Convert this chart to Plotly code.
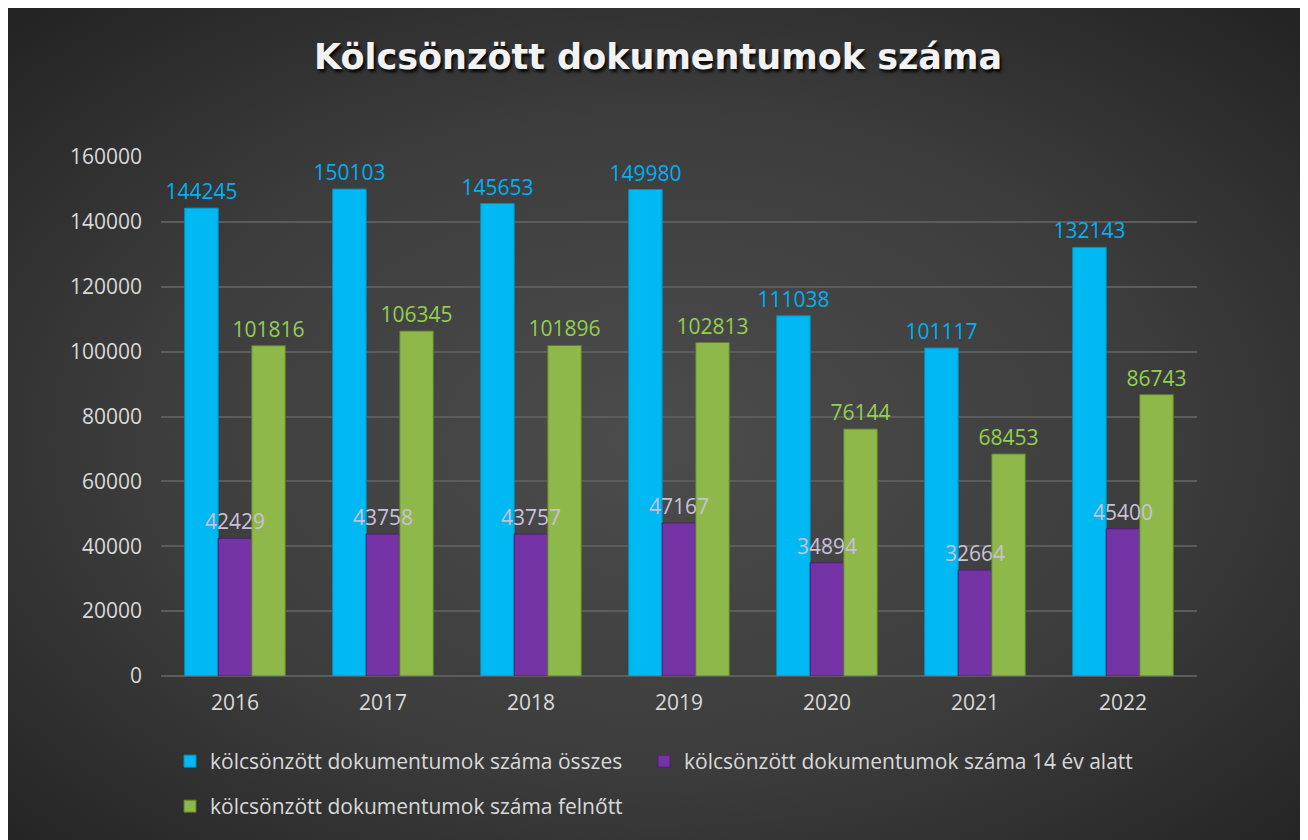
import base64
import plotly.graph_objects as go

years = ["2016", "2017", "2018", "2019", "2020", "2021", "2022"]
osszes = [144245, 150103, 145653, 149980, 111038, 101117, 132143]
alatt14 = [42429, 43758, 43757, 47167, 34894, 32664, 45400]
felnott = [101816, 106345, 101896, 102813, 76144, 68453, 86743]

names = [
    "kölcsönzött dokumentumok száma összes",
    "kölcsönzött dokumentumok száma 14 év alatt",
    "kölcsönzött dokumentumok száma felnőtt",
]
title_text = "Kölcsönzött dokumentumok száma"
y_ticks = [0, 20000, 40000, 60000, 80000, 100000, 120000, 140000, 160000]

FONT = "Open Sans"
OFF = 8  # page body margin
W, H = 1300, 832
# plot area in screen pixels
SL, SR, ST, SB = 161, 1197, 157, 676
L, R, T, B = SL - OFF, SR - OFF, ST - OFF, SB - OFF
PW, PH = R - L, B - T


def px_x(Xs):
    return (Xs - OFF - L) / PW


def px_y(Ys):
    return (B - (Ys - OFF)) / PH


svg = (
    '<svg xmlns="http://www.w3.org/2000/svg" width="1298" height="832" '
    'preserveAspectRatio="none" viewBox="0 0 1298 832">'
    '<defs><radialGradient id="g" cx="50%" cy="52%" r="70%">'
    '<stop offset="0%" stop-color="#4c4c4c"/>'
    '<stop offset="55%" stop-color="#3d3d3d"/>'
    '<stop offset="100%" stop-color="#242424"/>'
    '</radialGradient></defs>'
    '<rect width="1298" height="832" fill="url(#g)"/></svg>'
)
bg_src = "data:image/svg+xml;base64," + base64.b64encode(svg.encode()).decode()

fig = go.Figure()
series = [
    (osszes, names[0], "#00B8F2", "#0090c0", "#00B0F0", "legend", "a"),
    (alatt14, names[1], "#7434A6", "#4e1f74", "#C9C1DA", "legend3", "b"),
    (felnott, names[2], "#8FB84A", "#5f7d2c", "#92D050", "legend2", "c"),
]
# real bars
for vals, nm, col, line, tcol, lg, og in series:
    fig.add_trace(go.Bar(
        x=years, y=vals, name=nm, offsetgroup=og,
        marker=dict(color=col, line=dict(color=line, width=1)),
        legend=lg, hoverinfo="skip",
    ))
# transparent bars carrying the data labels, drawn on top of all bars
for vals, nm, col, line, tcol, lg, og in series:
    fig.add_trace(go.Bar(
        x=years, y=vals, name=nm, offsetgroup=og, showlegend=False,
        marker=dict(color="rgba(0,0,0,0)", line=dict(width=0)),
        text=[str(v) for v in vals], textposition="outside",
        constraintext="none",
        textfont=dict(color=tcol, size=21, family=FONT),
        cliponaxis=False,
    ))

leg_common = dict(
    orientation="h", xanchor="left", yanchor="top",
    font=dict(size=21, color="#D9D9D9", family=FONT),
    bgcolor="rgba(0,0,0,0)", itemwidth=30,
)

fig.update_layout(
    width=W, height=H,
    margin=dict(l=L, r=W - R, t=T, b=H - B, autoexpand=False),
    paper_bgcolor="white",
    plot_bgcolor="rgba(0,0,0,0)",
    barmode="group", bargap=0.32, bargroupgap=0,
    font=dict(family=FONT, color="#D9D9D9"),
    title=dict(
        text=title_text, x=0.5, xref="container", xanchor="center",
        y=1 - (57 - OFF) / H, yref="container", yanchor="middle",
        font=dict(family="DejaVu Sans", size=35, color="#F2F2F2", weight="bold",
                  shadow="2px 3px 3px rgba(0,0,0,0.85)"),
    ),
    xaxis=dict(
        showgrid=False, showline=False, zeroline=False, ticks="",
        tickfont=dict(size=21, color="#D9D9D9", family=FONT),
        ticklabelstandoff=12,
    ),
    yaxis=dict(
        range=[0, 160000], tickvals=y_ticks, tickformat="d",
        showgrid=True, gridcolor="#5c5c5c", gridwidth=1.5,
        zeroline=True, zerolinecolor="#5c5c5c", zerolinewidth=1.5,
        ticks="", tickfont=dict(size=21, color="#D9D9D9", family=FONT),
        ticklabelstandoff=18,
    ),
    legend=dict(x=px_x(170), y=px_y(741), **leg_common),
    legend3=dict(x=px_x(644), y=px_y(741), **leg_common),
    legend2=dict(x=px_x(170), y=px_y(786), **leg_common),
    images=[dict(
        source=bg_src, xref="paper", yref="paper",
        x=px_x(8), y=px_y(8), sizex=(1306 - 8) / PW, sizey=(840 - 8) / PH,
        xanchor="left", yanchor="top", sizing="stretch", layer="below",
    )],
    shapes=[dict(
        type="rect", xref="paper", yref="paper",
        x0=px_x(1306), x1=px_x(1308), y0=px_y(23), y1=px_y(8),
        fillcolor="#C0504D", line=dict(width=0),
    )],
)

fig.write_html("out.html")
